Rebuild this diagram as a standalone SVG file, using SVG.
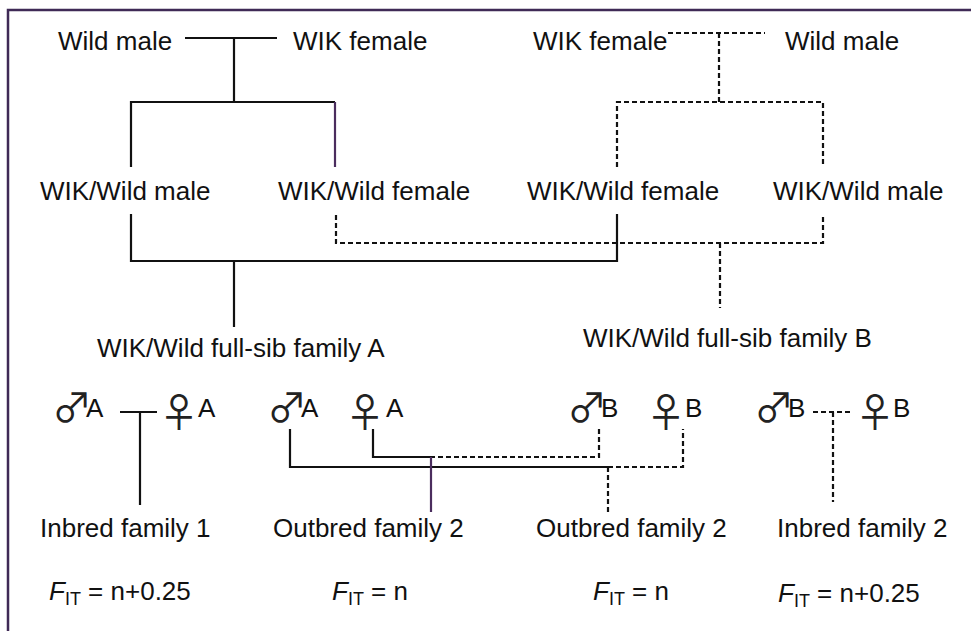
<svg xmlns="http://www.w3.org/2000/svg" width="971" height="631" viewBox="0 0 971 631">
<style>
text{font-family:"Liberation Sans",Arial,sans-serif;font-size:26px;fill:#111}
.sym{font-family:"Noto Sans CJK JP","Noto Sans CJK SC","DejaVu Sans",sans-serif;font-size:40px;fill:#222;letter-spacing:-9px}
.sub{font-size:18px}
.s{stroke:#111;stroke-width:2.2;fill:none}
.d{stroke:#111;stroke-width:2.2;fill:none;stroke-dasharray:5 3}
.p{stroke:#4b2d5e;stroke-width:2.2;fill:none}
.frame{stroke:#3f2a56;stroke-width:2.5;fill:none}
</style>
<rect width="971" height="631" fill="#fff"/>
<path class="frame" d="M8,640 V10 H980"/>
<g id="connectors">
<path class="s" d="M185,38 H277 M234,38 V102 M131,167 V102 H335"/>
<path class="p" d="M335,102 V167"/>
<path class="d" d="M668,33 H765 M719,33 V102 M617,167 V102 H823 V167"/>
<path class="s" d="M131,214 V261 H617 V214 M234,261 V327"/>
<path class="d" d="M336,215 V243 H823 V214 M720,243 V308"/>
<path class="s" d="M120,412 H157 M140,412 V505"/>
<path class="s" d="M290,429 V467 H608 M373,429 V457 H430"/>
<path class="d" d="M608,467 H683 V429 M430,457 H599 V429 M608,467 V513"/>
<path class="p" d="M431,457 V512"/>
<path class="d" d="M813,412 H852 M833,412 V502"/>
</g>
<g id="wild-male-1"><text x="58" y="50">Wild male</text></g>
<g id="wik-female-1"><text x="293" y="50">WIK female</text></g>
<g id="wik-female-2"><text x="533" y="50">WIK female</text></g>
<g id="wild-male-2"><text x="785" y="50">Wild male</text></g>
<g id="wikwild-male-1"><text x="40" y="200">WIK/Wild male</text></g>
<g id="wikwild-female-1"><text x="278" y="200">WIK/Wild female</text></g>
<g id="wikwild-female-2"><text x="527" y="200">WIK/Wild female</text></g>
<g id="wikwild-male-2"><text x="773" y="200">WIK/Wild male</text></g>
<g id="family-a"><text x="97" y="357">WIK/Wild full-sib family A</text></g>
<g id="family-b"><text x="583" y="347">WIK/Wild full-sib family B</text></g>
<g id="male-a-1"><text y="422"><tspan class="sym" x="52">♂</tspan><tspan x="86" y="417">A</tspan></text></g>
<g id="female-a-1"><text y="427"><tspan class="sym" x="159">♀</tspan><tspan x="198" y="417">A</tspan></text></g>
<g id="male-a-2"><text y="422"><tspan class="sym" x="267">♂</tspan><tspan x="301" y="417">A</tspan></text></g>
<g id="female-a-2"><text y="427"><tspan class="sym" x="345">♀</tspan><tspan x="386" y="417">A</tspan></text></g>
<g id="male-b-1"><text y="422"><tspan class="sym" x="567">♂</tspan><tspan x="601" y="417">B</tspan></text></g>
<g id="female-b-1"><text y="427"><tspan class="sym" x="646">♀</tspan><tspan x="685" y="417">B</tspan></text></g>
<g id="male-b-2"><text y="422"><tspan class="sym" x="754">♂</tspan><tspan x="788" y="417">B</tspan></text></g>
<g id="female-b-2"><text y="427"><tspan class="sym" x="855">♀</tspan><tspan x="893" y="417">B</tspan></text></g>
<g id="inbred-1"><text x="40" y="537">Inbred family 1</text></g>
<g id="outbred-2a"><text x="273" y="537">Outbred family 2</text></g>
<g id="outbred-2b"><text x="536" y="537">Outbred family 2</text></g>
<g id="inbred-2"><text x="777" y="537">Inbred family 2</text></g>
<g id="f-1"><text x="49" y="600"><tspan font-style="italic">F</tspan><tspan class="sub" dy="5">IT</tspan><tspan dy="-5"> = n+0.25</tspan></text></g>
<g id="f-2"><text x="332" y="600"><tspan font-style="italic">F</tspan><tspan class="sub" dy="5">IT</tspan><tspan dy="-5"> = n</tspan></text></g>
<g id="f-3"><text x="593" y="600"><tspan font-style="italic">F</tspan><tspan class="sub" dy="5">IT</tspan><tspan dy="-5"> = n</tspan></text></g>
<g id="f-4"><text x="778" y="602"><tspan font-style="italic">F</tspan><tspan class="sub" dy="5">IT</tspan><tspan dy="-5"> = n+0.25</tspan></text></g>
</svg>
